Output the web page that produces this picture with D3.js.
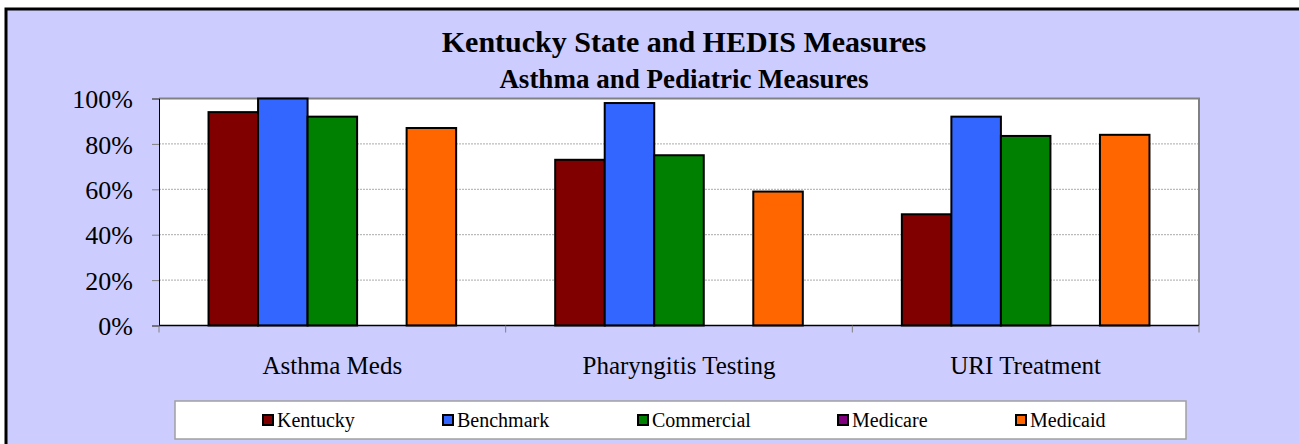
<!DOCTYPE html>
<html>
<head>
<meta charset="utf-8">
<script src="https://cdn.jsdelivr.net/npm/d3@7"></script>
<style>
  body { margin: 0; background: #fff; }
  svg { display: block; }
</style>
</head>
<body>
<div id="chart"></div>
<script>
// chart data
var categories = ["Asthma Meds", "Pharyngitis Testing", "URI Treatment"];
var seriesNames = ["Kentucky", "Benchmark", "Commercial", "Medicare", "Medicaid"];
var seriesColors = ["#800000", "#3366FF", "#008000", "#800080", "#FF6600"];
var kentucky = [0.94, 0.73, 0.49];
var benchmark = [1.00, 0.98, 0.92];
var commercial = [0.92, 0.75, 0.835];
var medicare = [null, null, null]; // no values shown
var medicaid = [0.87, 0.59, 0.84];
var yTicks = [0, 0.2, 0.4, 0.6, 0.8, 1.0];

var seriesValues = [kentucky, benchmark, commercial, medicare, medicaid];

var width = 1299, height = 444;
var plot = { left: 159, right: 1199, top: 98.5, bottom: 325.5 };
var font = "'Liberation Serif', 'Times New Roman', serif";

var svg = d3.select("#chart").append("svg")
    .attr("width", width)
    .attr("height", height);

// outer frame
svg.append("rect")
    .attr("x", 6).attr("y", 9)
    .attr("width", 1300).attr("height", 440)
    .attr("fill", "#CCCCFF")
    .attr("stroke", "#000")
    .attr("stroke-width", 3);

// titles
svg.append("text")
    .attr("x", 684).attr("y", 52)
    .attr("text-anchor", "middle")
    .style("font-family", font)
    .style("font-size", "30px")
    .style("font-weight", "bold")
    .text("Kentucky State and HEDIS Measures");

svg.append("text")
    .attr("x", 684).attr("y", 88)
    .attr("text-anchor", "middle")
    .style("font-family", font)
    .style("font-size", "27px")
    .style("font-weight", "bold")
    .text("Asthma and Pediatric Measures");

// scales
var x0 = d3.scaleBand()
    .domain(categories)
    .range([plot.left, plot.right])
    .paddingInner(0).paddingOuter(0);

var x1 = d3.scaleBand()
    .domain(seriesNames)
    .range([0, x0.bandwidth()])
    .paddingInner(0).paddingOuter(1);

var y = d3.scaleLinear()
    .domain([0, 1])
    .range([plot.bottom, plot.top]);

// plot area background
svg.append("rect")
    .attr("x", plot.left).attr("y", plot.top)
    .attr("width", plot.right - plot.left)
    .attr("height", plot.bottom - plot.top)
    .attr("fill", "#fff");

// gridlines
svg.append("g").selectAll("line")
    .data(yTicks.filter(function(d) { return d > 0 && d < 1; }))
    .enter().append("line")
    .attr("x1", plot.left).attr("x2", plot.right)
    .attr("y1", function(d) { return y(d); })
    .attr("y2", function(d) { return y(d); })
    .attr("stroke", "#aaa")
    .attr("stroke-width", 1)
    .attr("stroke-dasharray", "2,1");

// plot area border (top and right gray)
svg.append("path")
    .attr("d", "M" + plot.left + "," + plot.top + "H" + plot.right + "V" + plot.bottom)
    .attr("fill", "none")
    .attr("stroke", "#808080")
    .attr("stroke-width", 2);

// bars
var groups = svg.append("g").selectAll("g")
    .data(categories)
    .enter().append("g")
    .attr("transform", function(d) { return "translate(" + x0(d) + ",0)"; });

groups.selectAll("rect")
    .data(function(d, ci) {
        return seriesNames.map(function(s, si) {
            return { series: s, value: seriesValues[si][ci], color: seriesColors[si] };
        }).filter(function(b) { return b.value != null; });
    })
    .enter().append("rect")
    .attr("x", function(d) { return x1(d.series); })
    .attr("y", function(d) { return y(d.value); })
    .attr("width", x1.bandwidth())
    .attr("height", function(d) { return y(0) - y(d.value); })
    .attr("fill", function(d) { return d.color; })
    .attr("stroke", "#000")
    .attr("stroke-width", 2);

// y axis
var yAxis = d3.axisLeft(y)
    .tickValues(yTicks)
    .tickFormat(d3.format(".0%"))
    .tickSize(7)
    .tickPadding(19);

var yg = svg.append("g")
    .attr("transform", "translate(" + plot.left + ",0)")
    .call(yAxis);
yg.select(".domain").attr("stroke", "#000").attr("stroke-width", 1);
yg.selectAll(".tick line").attr("stroke", "#808080");
yg.selectAll(".tick text")
    .attr("dy", "0.35em")
    .style("font-family", font)
    .style("font-size", "26px")
    .attr("fill", "#000");

// x axis
var xg = svg.append("g")
    .attr("transform", "translate(0," + plot.bottom + ")");
xg.append("line")
    .attr("x1", plot.left).attr("x2", plot.right)
    .attr("stroke", "#000").attr("stroke-width", 1.5);
xg.selectAll(".sep")
    .data(categories.map(function(c) { return x0(c); }).concat([plot.right]))
    .enter().append("line")
    .attr("class", "sep")
    .attr("x1", function(d) { return d; }).attr("x2", function(d) { return d; })
    .attr("y1", 0).attr("y2", 7)
    .attr("stroke", "#808080");
xg.selectAll("text")
    .data(categories)
    .enter().append("text")
    .attr("x", function(d) { return x0(d) + x0.bandwidth() / 2; })
    .attr("y", 48)
    .attr("text-anchor", "middle")
    .style("font-family", font)
    .style("font-size", "25px")
    .text(function(d) { return d; });

// legend
var legend = svg.append("g");
legend.append("rect")
    .attr("x", 175).attr("y", 401)
    .attr("width", 1011).attr("height", 38)
    .attr("fill", "#fff")
    .attr("stroke", "#a0a0a0")
    .attr("stroke-width", 1.5);

var legendX = [262, 442, 637, 837, 1015];
var items = legend.selectAll(".item")
    .data(seriesNames)
    .enter().append("g")
    .attr("class", "item")
    .attr("transform", function(d, i) { return "translate(" + legendX[i] + ",414)"; });
items.append("rect")
    .attr("x", 1).attr("y", 1)
    .attr("width", 10).attr("height", 10)
    .attr("fill", function(d, i) { return seriesColors[i]; })
    .attr("stroke", "#000")
    .attr("stroke-width", 2);
items.append("text")
    .attr("x", 15).attr("y", 13)
    .style("font-family", font)
    .style("font-size", "20px")
    .text(function(d) { return d; });
</script>
</body>
</html>
